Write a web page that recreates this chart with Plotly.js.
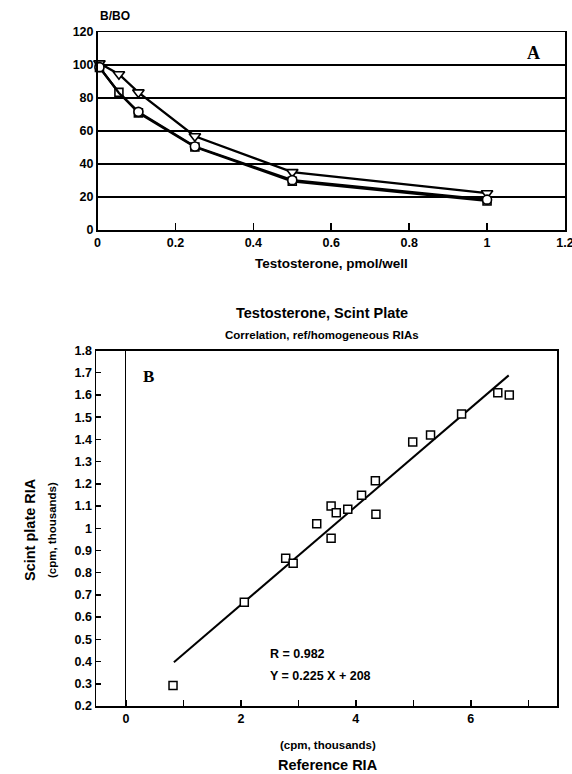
<!DOCTYPE html>
<html>
<head>
<meta charset="utf-8">
<script src="https://cdn.plot.ly/plotly-3.0.1.min.js"></script>
<style>html,body{margin:0;padding:0;background:#fff;}#chart{width:572px;height:774px;}</style>
</head>
<body>
<div id="chart"></div>
<script>
// ---- Panel A data ----
const concA = [0.005, 0.055, 0.105, 0.25, 0.5, 1.0];
const triA  = [101, 94.4, 83.4, 56.8, 35.1, 22.3];
const sqA   = [98.5, 83.4, 71.0, 50.3, 29.5, 17.6];
const circA = [98.7, 83.0, 71.6, 50.6, 30.2, 18.4];
const yTicksA = [0, 20, 40, 60, 80, 100, 120];
const xTicksA = [0, 0.2, 0.4, 0.6, 0.8, 1, 1.2];
const xTickTextA = ["0", "0.2", "0.4", "0.6", "0.8", "1", "1.2"];

// ---- Panel B data ----
const refB   = [0.82, 2.06, 2.78, 2.91, 3.32, 3.57, 3.57, 3.66, 3.86, 4.10, 4.34, 4.35, 4.99, 5.30, 5.84, 6.47, 6.67];
const scintB = [0.292, 0.667, 0.865, 0.843, 1.02, 1.10, 0.955, 1.07, 1.086, 1.149, 1.214, 1.063, 1.388, 1.42, 1.514, 1.61, 1.60];
const fitX = [0.835, 6.66];
const fitY = [0.397, 1.688];
const yTicksB = [0.2,0.3,0.4,0.5,0.6,0.7,0.8,0.9,1,1.1,1.2,1.3,1.4,1.5,1.6,1.7,1.8];
const yTickTextB = ["0.2","0.3","0.4","0.5","0.6","0.7","0.8","0.9","1","1.1","1.2","1.3","1.4","1.5","1.6","1.7","1.8"];
const xTicksB = [0,1,2,3,4,5,6,7];
const xTickTextB = ["0","","2","","4","","6",""];

const W = 572, H = 774;
const px = x => x / W;
const py = y => 1 - y / H;
const FF = "Liberation Sans, Arial, Helvetica, sans-serif";
const SERIF = "Liberation Serif, Times New Roman, serif";
const tickFont = {family: FF, size: 12.5, color: "#000", weight: "bold"};

const traces = [
  {x: concA, y: triA, xaxis: "x", yaxis: "y", mode: "lines+markers", cliponaxis: false,
   line: {color: "#000", width: 2.3},
   marker: {symbol: "triangle-down", size: 10, color: "#fff", line: {color: "#000", width: 1.6}}},
  {x: concA, y: sqA, xaxis: "x", yaxis: "y", mode: "lines+markers", cliponaxis: false,
   line: {color: "#000", width: 2.3},
   marker: {symbol: "square", size: 8, color: "#fff", line: {color: "#000", width: 1.6}}},
  {x: concA, y: circA, xaxis: "x", yaxis: "y", mode: "lines+markers", cliponaxis: false,
   line: {color: "#000", width: 2.3},
   marker: {symbol: "circle", size: 9, color: "#fff", opacity: [1, 0, 1, 1, 1, 1],
            line: {color: "#000", width: 1.6}}},
  {x: fitX, y: fitY, xaxis: "x2", yaxis: "y2", mode: "lines",
   line: {color: "#000", width: 2}},
  {x: refB, y: scintB, xaxis: "x2", yaxis: "y2", mode: "markers", cliponaxis: false,
   marker: {symbol: "square", size: 8, color: "#fff", line: {color: "#000", width: 1.5}}}
];

const ann = (text, x, y, size, opts = {}) => Object.assign({
  text: text, xref: "paper", yref: "paper", x: px(x), y: py(y),
  xanchor: "center", yanchor: "middle", showarrow: false,
  font: {family: FF, size: size, color: "#000", weight: "bold"}
}, opts);

const layout = {
  width: W, height: H, autosize: false,
  margin: {l: 0, r: 0, t: 0, b: 0, pad: 0},
  paper_bgcolor: "#fff", plot_bgcolor: "#fff",
  showlegend: false,
  xaxis: {domain: [px(97.5), px(565)], range: [0, 1.2001], anchor: "y",
    tickmode: "array", tickvals: xTicksA, ticktext: xTickTextA,
    ticks: "inside", ticklen: 7, tickwidth: 1.5, tickcolor: "#000",
    ticklabeloverflow: "allow",
    showgrid: false, zeroline: false,
    showline: true, mirror: true, linecolor: "#000", linewidth: 1.5,
    tickfont: tickFont},
  yaxis: {domain: [py(230), py(32)], range: [0, 120], anchor: "x",
    tickmode: "array", tickvals: yTicksA, ticks: "",
    showgrid: true, gridcolor: "#000", gridwidth: 1.4, zeroline: false,
    showline: true, mirror: true, linecolor: "#000", linewidth: 1.5,
    tickfont: tickFont},
  xaxis2: {domain: [px(96), px(557)], range: [-0.52, 7.5], anchor: "y2",
    tickmode: "array", tickvals: xTicksB, ticktext: xTickTextB,
    ticks: "inside", ticklen: 6, tickwidth: 1.5, tickcolor: "#000",
    showgrid: false, zeroline: true, zerolinecolor: "#000", zerolinewidth: 1.2,
    showline: true, mirror: true, linecolor: "#000", linewidth: 1.5,
    tickfont: tickFont},
  yaxis2: {domain: [py(706), py(350.5)], range: [0.2, 1.8], anchor: "x2",
    tickmode: "array", tickvals: yTicksB, ticktext: yTickTextB,
    ticks: "inside", ticklen: 5, tickwidth: 1.5, tickcolor: "#000",
    showgrid: false, zeroline: false,
    showline: true, mirror: true, linecolor: "#000", linewidth: 1.5,
    tickfont: tickFont},
  annotations: [
    ann("B/BO", 115, 16, 12),
    ann("A", 533, 53, 18, {font: {family: SERIF, size: 18, color: "#000", weight: "bold"}}),
    ann("Testosterone, pmol/well", 331, 263, 13.5),
    ann("Testosterone, Scint Plate", 322, 313, 14.5),
    ann("Correlation, ref/homogeneous RIAs", 322, 335, 11.5),
    ann("B", 148, 376, 17, {font: {family: SERIF, size: 17, color: "#000", weight: "bold"}}),
    ann("R = 0.982", 268, 654, 12.5, {xanchor: "left"}),
    ann("Y = 0.225 X + 208", 268, 676, 12.5, {xanchor: "left"}),
    ann("(cpm, thousands)", 328, 745, 11.5),
    ann("Reference RIA", 328, 765, 14.5),
    ann("Scint plate RIA", 30, 530, 14.5, {textangle: -90}),
    ann("(cpm, thousands)", 52, 530, 11.5, {textangle: -90})
  ]
};

Plotly.newPlot("chart", traces, layout, {displayModeBar: false, staticPlot: true});
</script>
</body>
</html>
